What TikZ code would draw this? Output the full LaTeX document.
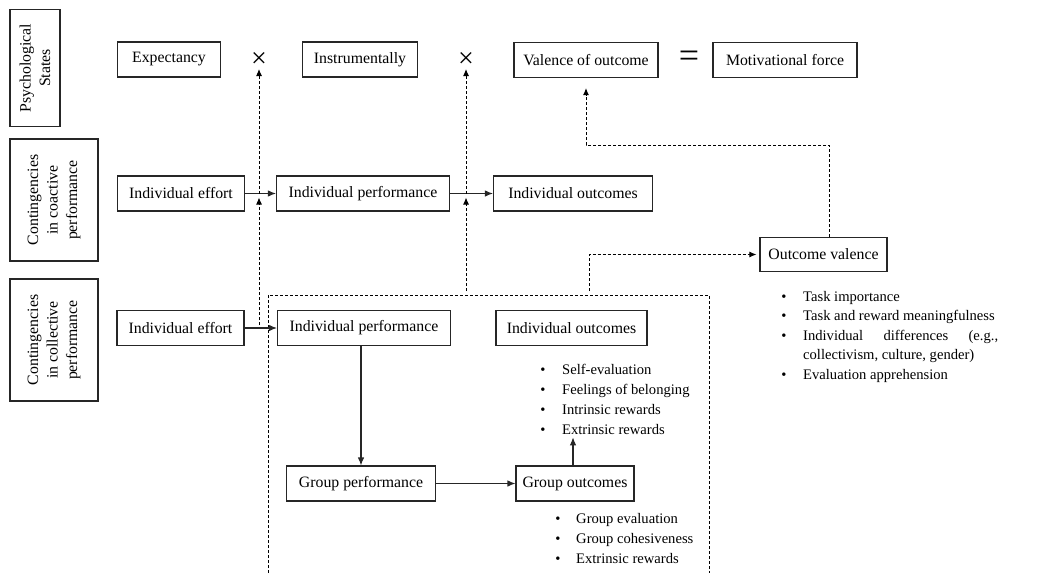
\documentclass[tikz,border=0pt]{standalone}
\usepackage{fontspec}
\setmainfont{Liberation Serif}
\usetikzlibrary{arrows.meta,calc}
\newcommand\boxfont{\fontsize{15.8}{19.5}\selectfont}
\newcommand\listfont{\fontsize{14.6}{20}\selectfont}
\tikzset{
  bx/.style={draw=black!85, line width=1.1pt, inner sep=0pt, minimum height=35pt, font=\boxfont},
  sidebx/.style={draw=black!85, line width=1.1pt, inner sep=0pt, rotate=90, align=center, font=\boxfont},
  arr/.style={line width=1.1pt, draw=black!85, -{Latex[length=8pt,width=6.5pt]}},
  darr/.style={line width=1pt, dash pattern=on 3pt off 2pt, -{Latex[length=7pt,width=6pt]}},
  dline/.style={line width=1pt, dash pattern=on 3pt off 2pt},
  bul/.style={inner sep=0pt, anchor=base, font=\listfont},
  ltext/.style={inner sep=0pt, anchor=base west, font=\listfont},
  sym/.style={inner sep=0pt},
}
\newcommand\myitem[5]{%
  \node[bul] (#1b) at (#2,#4) {\textbullet};
  \node[ltext] (#1) at (#3,#4) {#5};}
\begin{document}
\begin{tikzpicture}[x=1pt,y=-1pt]
\useasboundingbox (0,0) rectangle (1056,573);
% side labels
\node[sidebx, minimum width=117pt, minimum height=50pt] (psy) at (35,68) {Psychological\\States};
\node[sidebx, minimum width=122pt, minimum height=88pt] (coa) at (54,200) {Contingencies\\in coactive\\performance};
\node[sidebx, minimum width=122pt, minimum height=88pt] (col) at (54,340) {Contingencies\\in collective\\performance};
% top row
\node[bx, minimum width=103pt] (exp) at (169,59.5) {Expectancy};
\node[sym, font=\fontsize{28}{28}\selectfont] (x1) at (259,60) {×};
\node[bx, minimum width=115pt] (ins) at (360,59.5) {Instrumentally};
\node[sym, font=\fontsize{28}{28}\selectfont] (x2) at (466,60) {×};
\node[bx, minimum width=144pt] (val) at (586,60) {Valence of outcome};
\node[sym, font=\fontsize{36}{36}\selectfont] (eq) at (689,59) {=};
\node[bx, minimum width=144pt] (mot) at (785,60) {Motivational force};
% coactive row
\node[bx, minimum width=127pt] (ie1) at (181,193.5) {Individual effort};
\node[bx, minimum width=173pt] (ip1) at (363,193.5) {Individual performance};
\node[bx, minimum width=159pt] (io1) at (573,193.5) {Individual outcomes};
\node[bx, minimum width=127pt, minimum height=34pt] (ov) at (823.5,254.5) {Outcome valence};
% collective row
\node[bx, minimum width=127pt] (ie2) at (180.5,328) {Individual effort};
\node[bx, minimum width=173pt] (ip2) at (364,328) {Individual performance};
\node[bx, minimum width=151pt] (io2) at (571.5,328) {Individual outcomes};
\node[bx, minimum width=149pt] (gp) at (361,483.5) {Group performance};
\node[bx, minimum width=118pt] (go) at (575,483.5) {Group outcomes};
% dashed frame
\coordinate (dbl) at (268,573);
\coordinate (dtl) at (268,295);
\coordinate (dtr) at (709,295);
\coordinate (dbr) at (709,573);
\draw[dline] (dbl) -- (dtl) -- (dtr) -- (dbr);
% bullet lists
\myitem{ia}{543}{562}{374}{Self-evaluation}
\myitem{ib}{543}{562}{394}{Feelings of belonging}
\myitem{ic}{543}{562}{414}{Intrinsic rewards}
\myitem{id}{543}{562}{434}{Extrinsic rewards}
\myitem{ga}{558}{576}{523}{Group evaluation}
\myitem{gb}{558}{576}{543}{Group cohesiveness}
\myitem{gc}{558}{576}{563}{Extrinsic rewards}
\myitem{ra}{784}{803}{301}{Task importance}
\myitem{rb}{784}{803}{320}{Task and reward meaningfulness}
\myitem{rc}{784}{803}{340}{\makebox[195pt][s]{Individual differences (e.g.,}}
\node[ltext] (rc2) at (803,359) {collectivism, culture, gender)};
\myitem{rd}{784}{803}{379}{Evaluation apprehension}
% solid arrows
\draw[arr] (ie1.east) -- (ip1.west);
\draw[arr] (ip1.east) -- (io1.west);
\draw[arr] (ie2.east) -- (ip2.west);
\draw[arr] (ip2.south -| gp.north) -- (gp.north);
\draw[arr] (gp.east) -- (gp.east -| go.west);
\draw[arr] ($(go.north)+(-2,0)$) -- ($(go.north |- id.south)+(-2,3)$);
% dashed arrows
\draw[darr] (x1 |- ie1.east) -- ($(x1.center)+(0,9)$);
\draw[darr] ($(x1 |- ie2.east)+(0,-3)$) -- ($(x1 |- ie1.east)+(0,4)$);
\draw[darr] (x2 |- ie1.east) -- ($(x2.center)+(0,9)$);
\draw[darr] ($(x2 |- dtl)+(0,-4)$) -- ($(x2 |- ie1.east)+(0,4)$);
\coordinate (d5) at (589,291);
\draw[darr, shorten >=3pt] (d5) |- (ov.west);
\coordinate (d6) at (829,237);
\coordinate (bend) at (829,145);
\draw[darr, shorten >=10pt] (d6) -- (bend) -| (val.south);
\end{tikzpicture}
\end{document}
